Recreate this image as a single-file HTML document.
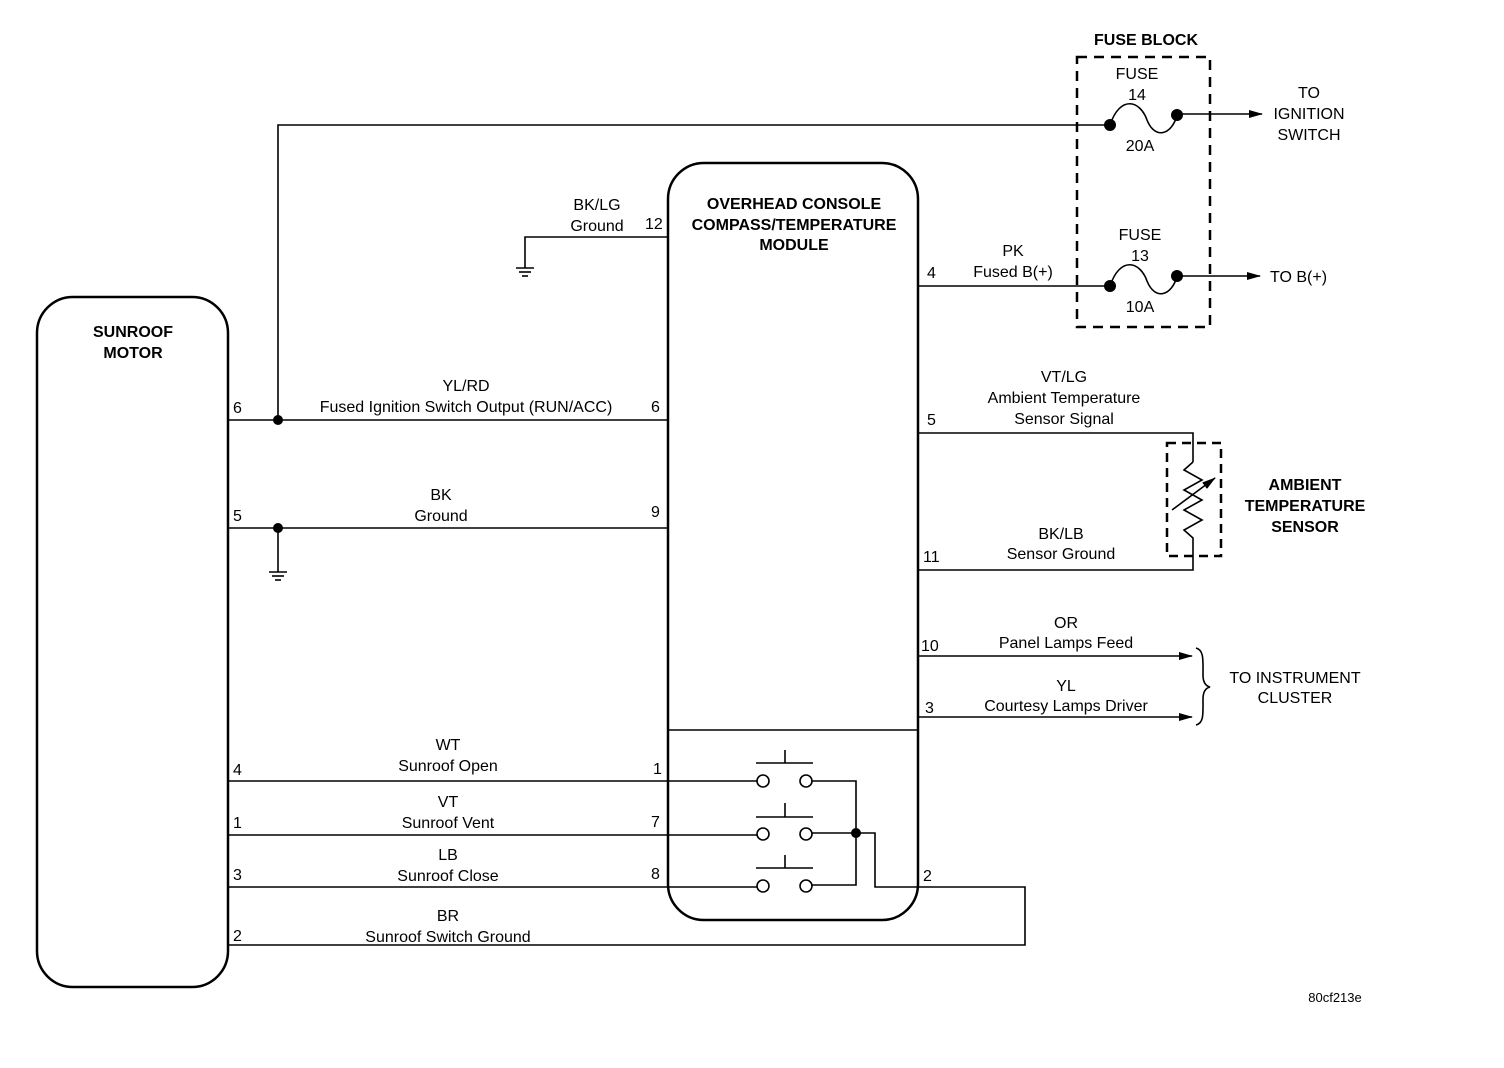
<!DOCTYPE html>
<html><head><meta charset="utf-8"><style>
html,body{margin:0;padding:0;background:#fff;}
svg{display:block;}
text{font-family:"Liberation Sans",Arial,sans-serif;font-size:16px;fill:#000;}
.b{font-weight:bold;}
</style></head><body>
<svg width="1504" height="1068" viewBox="0 0 1504 1068" xmlns="http://www.w3.org/2000/svg">
<defs><marker id="ar" markerWidth="14" markerHeight="8" refX="13" refY="4" orient="auto" markerUnits="userSpaceOnUse"><path d="M0,0 L14,4 L0,8 z" fill="#000"/></marker></defs>
<g fill="none" stroke="#000" stroke-width="1.6">
<!-- boxes -->
<rect x="37" y="297" width="191" height="690" rx="36" stroke-width="2.5"/>
<rect x="668" y="163" width="250" height="757" rx="36" stroke-width="2.5"/>
<line x1="668" y1="730" x2="918" y2="730"/>
<!-- fuse block -->
<rect x="1077" y="57" width="133" height="270" stroke-width="2.5" stroke-dasharray="10,7"/>
<rect x="1167" y="443" width="54" height="113" stroke-width="2.5" stroke-dasharray="9,6"/>
<!-- top wire -->
<polyline points="278,420 278,125 1110,125"/>
<path d="M1110,125 C1120,95 1140,100 1147,120 C1155,140 1172,135 1177,115"/>
<line x1="1177" y1="114" x2="1262" y2="114" marker-end="url(#ar)"/>
<line x1="918" y1="286" x2="1110" y2="286"/>
<path d="M1110,286 C1120,256 1140,261 1147,281 C1155,301 1172,296 1177,276"/>
<line x1="1177" y1="276" x2="1260" y2="276" marker-end="url(#ar)"/>
<!-- left wires -->
<line x1="228" y1="420" x2="668" y2="420"/>
<line x1="228" y1="528" x2="668" y2="528"/>
<line x1="278" y1="528" x2="278" y2="572"/>
<line x1="269" y1="572" x2="287" y2="572"/><line x1="272" y1="576" x2="284" y2="576"/><line x1="275" y1="580" x2="281" y2="580"/>
<polyline points="668,237 525,237 525,268"/>
<line x1="516" y1="268" x2="534" y2="268"/><line x1="519" y1="272" x2="531" y2="272"/><line x1="522" y1="276" x2="528" y2="276"/>
<!-- sensor -->
<polyline points="918,433 1193,433 1193,462"/>
<polyline points="1193,462 1184,470 1202,480 1184,490 1202,500 1184,510 1202,520 1184,530 1193,538 1193,570 918,570"/>
<line x1="1172" y1="510" x2="1215" y2="478" marker-end="url(#ar)"/>
<!-- outputs -->
<line x1="918" y1="656" x2="1192" y2="656" marker-end="url(#ar)"/>
<line x1="918" y1="717" x2="1192" y2="717" marker-end="url(#ar)"/>
<path d="M1196,648 C1204,650 1203,660 1203,675 C1203,683 1206,686 1210,687 C1206,688 1203,691 1203,699 C1203,714 1204,723 1196,725"/>
<!-- switch wires -->
<line x1="228" y1="781" x2="757" y2="781"/>
<line x1="228" y1="835" x2="757" y2="835"/>
<line x1="228" y1="887" x2="757" y2="887"/>
<line x1="756" y1="763" x2="813" y2="763"/><line x1="785" y1="763" x2="785" y2="750"/>
<line x1="756" y1="817" x2="813" y2="817"/><line x1="785" y1="817" x2="785" y2="803"/>
<line x1="756" y1="868" x2="813" y2="868"/><line x1="785" y1="868" x2="785" y2="855"/>
<circle cx="763" cy="781" r="6"/><circle cx="806" cy="781" r="6"/>
<circle cx="763" cy="834" r="6"/><circle cx="806" cy="834" r="6"/>
<circle cx="763" cy="886" r="6"/><circle cx="806" cy="886" r="6"/>
<polyline points="812,781 856,781 856,885 812,885"/>
<polyline points="812,833 875,833 875,887 1025,887 1025,945 228,945"/>
</g>
<g fill="#000">
<circle cx="278" cy="420" r="5"/><circle cx="278" cy="528" r="5"/>
<circle cx="856" cy="833" r="5"/>
<circle cx="1110" cy="125" r="6"/><circle cx="1177" cy="115" r="6"/>
<circle cx="1110" cy="286" r="6"/><circle cx="1177" cy="276" r="6"/>
</g>
<text class="b" x="1146" y="45" text-anchor="middle">FUSE BLOCK</text>
<text x="1137" y="79" text-anchor="middle">FUSE</text>
<text x="1137" y="100" text-anchor="middle">14</text>
<text x="1140" y="151" text-anchor="middle">20A</text>
<text x="1140" y="240" text-anchor="middle">FUSE</text>
<text x="1140" y="261" text-anchor="middle">13</text>
<text x="1140" y="312" text-anchor="middle">10A</text>
<text x="1309" y="98" text-anchor="middle">TO</text>
<text x="1309" y="119" text-anchor="middle">IGNITION</text>
<text x="1309" y="140" text-anchor="middle">SWITCH</text>
<text x="1270" y="282">TO B(+)</text>
<text class="b" x="794" y="209" text-anchor="middle">OVERHEAD CONSOLE</text>
<text class="b" x="794" y="230" text-anchor="middle">COMPASS/TEMPERATURE</text>
<text class="b" x="794" y="250" text-anchor="middle">MODULE</text>
<text class="b" x="133" y="337" text-anchor="middle">SUNROOF</text>
<text class="b" x="133" y="358" text-anchor="middle">MOTOR</text>
<text x="597" y="210" text-anchor="middle">BK/LG</text>
<text x="597" y="231" text-anchor="middle">Ground</text>
<text x="645" y="229">12</text>
<text x="1013" y="256" text-anchor="middle">PK</text>
<text x="1013" y="277" text-anchor="middle">Fused B(+)</text>
<text x="927" y="278">4</text>
<text x="466" y="391" text-anchor="middle">YL/RD</text>
<text x="466" y="412" text-anchor="middle">Fused Ignition Switch Output (RUN/ACC)</text>
<text x="233" y="413">6</text><text x="651" y="412">6</text>
<text x="441" y="500" text-anchor="middle">BK</text>
<text x="441" y="521" text-anchor="middle">Ground</text>
<text x="233" y="521">5</text><text x="651" y="517">9</text>
<text x="1064" y="382" text-anchor="middle">VT/LG</text>
<text x="1064" y="403" text-anchor="middle">Ambient Temperature</text>
<text x="1064" y="424" text-anchor="middle">Sensor Signal</text>
<text x="927" y="425">5</text>
<text class="b" x="1305" y="490" text-anchor="middle">AMBIENT</text>
<text class="b" x="1305" y="511" text-anchor="middle">TEMPERATURE</text>
<text class="b" x="1305" y="532" text-anchor="middle">SENSOR</text>
<text x="1061" y="539" text-anchor="middle">BK/LB</text>
<text x="1061" y="559" text-anchor="middle">Sensor Ground</text>
<text x="923" y="562">11</text>
<text x="1066" y="628" text-anchor="middle">OR</text>
<text x="1066" y="648" text-anchor="middle">Panel Lamps Feed</text>
<text x="921" y="651">10</text>
<text x="1066" y="691" text-anchor="middle">YL</text>
<text x="1066" y="711" text-anchor="middle">Courtesy Lamps Driver</text>
<text x="925" y="713">3</text>
<text x="1295" y="683" text-anchor="middle">TO INSTRUMENT</text>
<text x="1295" y="703" text-anchor="middle">CLUSTER</text>
<text x="448" y="750" text-anchor="middle">WT</text>
<text x="448" y="771" text-anchor="middle">Sunroof Open</text>
<text x="233" y="775">4</text><text x="653" y="774">1</text>
<text x="448" y="807" text-anchor="middle">VT</text>
<text x="448" y="828" text-anchor="middle">Sunroof Vent</text>
<text x="233" y="828">1</text><text x="651" y="827">7</text>
<text x="448" y="860" text-anchor="middle">LB</text>
<text x="448" y="881" text-anchor="middle">Sunroof Close</text>
<text x="233" y="880">3</text><text x="651" y="879">8</text>
<text x="923" y="881">2</text>
<text x="448" y="921" text-anchor="middle">BR</text>
<text x="448" y="942" text-anchor="middle">Sunroof Switch Ground</text>
<text x="233" y="941">2</text>
<text x="1335" y="1002" text-anchor="middle" style="font-size:13px">80cf213e</text>
</svg>
</body></html>
